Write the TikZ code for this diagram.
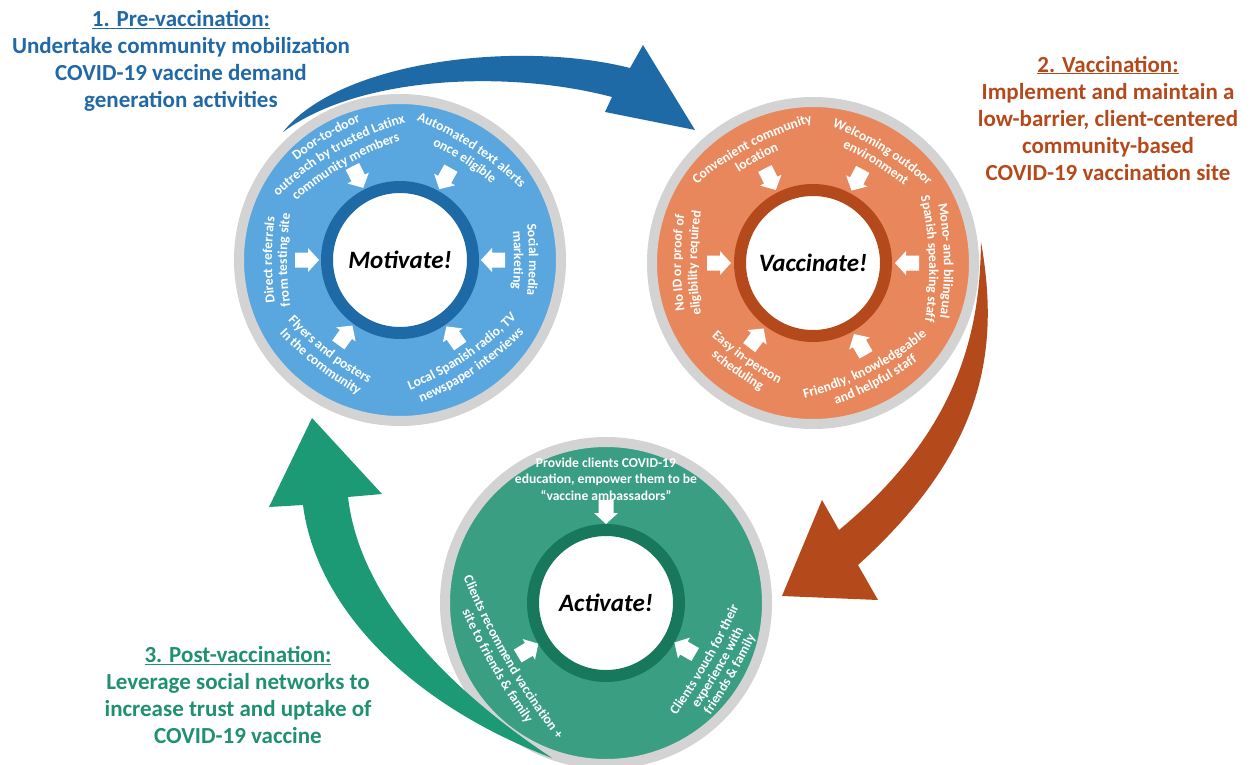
\documentclass[tikz,border=0pt]{standalone}
\usepackage{fontspec}
\setmainfont{Carlito}
\usetikzlibrary{decorations.text, calc}

\definecolor{ringgray}{HTML}{D3D3D3}
\definecolor{prefill}{HTML}{5AA7DF}
\definecolor{predark}{HTML}{1E6AA6}
\definecolor{vacfill}{HTML}{E8875B}
\definecolor{vacdark}{HTML}{B44A1B}
\definecolor{postfill}{HTML}{3A9E83}
\definecolor{postdark}{HTML}{17785B}
\definecolor{postarrow}{HTML}{1B9A75}
\definecolor{pretext}{HTML}{2168A7}
\definecolor{vactext}{HTML}{B44A1B}
\definecolor{posttext}{HTML}{1F9170}

\newlength{\ringsize}
\setlength{\ringsize}{322pt}
\newlength{\coresize}
\setlength{\coresize}{146pt}
\newlength{\bend}
\setlength{\bend}{320pt}

\newcommand{\arcfont}{\fontsize{13.6}{15}\selectfont\bfseries\color{white}}

% text on a gentle arc: centre, angle, distance, text
\newcommand{\cwline}[4]{%
  \path[decorate, decoration={text along path, text align=center, text={|\arcfont|#4}}]
    ($(#1)+(#2:#3pt)+(#2+180:\bend)+(#2+50:\bend)$) arc[start angle=#2+50, end angle=#2-50, radius=\bend];}
\newcommand{\ccwline}[4]{%
  \path[decorate, decoration={text along path, text align=center, text={|\arcfont|#4}}]
    ($(#1)+(#2:#3pt)+(#2+180:\bend)+(#2-50:\bend)$) arc[start angle=#2-50, end angle=#2+50, radius=\bend];}

\tikzstyle{ring} = [circle, draw=ringgray, line width=10pt, minimum size=\ringsize, inner sep=0pt]
\tikzstyle{core} = [circle, fill=white, line width=12pt, minimum size=\coresize, inner sep=0pt, font=\fontsize{25}{30}\selectfont\bfseries\itshape]
\tikzstyle{title} = [align=center, font=\fontsize{23}{27}\selectfont\bfseries]
\tikzset{push/.pic={\fill[white] (-12,-7.5) -- (1,-7.5) -- (1,-12) -- (12,0) -- (1,12) -- (1,7.5) -- (-12,7.5) -- cycle;}}

\begin{document}
\begin{tikzpicture}[x=1pt, y=-1pt]

    \useasboundingbox (0,0) rectangle (1255,765);

    % Circles
    \node (pre) [ring, fill=prefill] at (400,260) {};
    \node (vac) [ring, fill=vacfill] at (813,263) {};
    \node (post) [ring, fill=postfill] at (606,603) {};

    \node (motivate) [core, draw=predark] at (pre) {Motivate!};
    \node (vaccinate) [core, draw=vacdark] at (vac) {Vaccinate!};
    \node (activate) [core, draw=postdark] at (post) {Activate!};

    % Small arrows
    \foreach \a in {180,0,117,61,234,-55}
        \pic[rotate=\a+180] at ($(pre)+(\a:93pt)$) {push};
    \foreach \a in {180,0,117,62,233,-60}
        \pic[rotate=\a+180] at ($(vac)+(\a:94pt)$) {push};
    \foreach \a in {90,211,330}
        \pic[rotate=\a+180] at ($(post)+(\a:91pt)$) {push};

    % Motivate texts
    \cwline{pre}{121}{141}{Door-to-door}
    \cwline{pre}{120}{125}{outreach by trusted Latinx}
    \cwline{pre}{120}{109}{community members}
    \cwline{pre}{57}{132}{Automated text alerts}
    \cwline{pre}{57}{116}{once eligible}
    \cwline{pre}{180}{128}{Direct referrals}
    \cwline{pre}{180}{113}{from testing site}
    \cwline{pre}{0}{129}{Social media}
    \cwline{pre}{0}{114}{marketing}
    \ccwline{pre}{232}{121}{Flyers and posters}
    \ccwline{pre}{232}{136}{In the community}
    \ccwline{pre}{-56}{120}{Local Spanish radio, TV}
    \ccwline{pre}{-56}{136}{newspaper interviews}

    % Vaccinate texts
    \cwline{vac}{118}{131}{Convenient community}
    \cwline{vac}{118}{116}{location}
    \cwline{vac}{58}{131}{Welcoming outdoor}
    \cwline{vac}{58}{116}{environment}
    \cwline{vac}{1}{131}{Mono- and bilingual}
    \cwline{vac}{2}{116}{Spanish speaking staff}
    \cwline{vac}{180}{132}{No ID or proof of}
    \cwline{vac}{180}{116}{eligibility required}
    \ccwline{vac}{235}{121}{Easy in-person}
    \ccwline{vac}{235}{136}{scheduling}
    \ccwline{vac}{-63}{124}{Friendly, knowledgeable}
    \ccwline{vac}{-62}{139}{and helpful staff}

    % Activate texts
    \node (provide) [align=center, text=white, font=\fontsize{13.6}{16.5}\selectfont\bfseries] at (606,479)
        {Provide clients COVID-19\\education, empower them to be\\“vaccine ambassadors”};
    \setlength{\bend}{700pt}
    \ccwline{post}{210}{117}{Clients recommend vaccination +}
    \ccwline{post}{210}{132}{site to friends {\&} family}
    \ccwline{post}{-30}{120}{Clients vouch for their}
    \ccwline{post}{-30}{134}{experience with}
    \ccwline{post}{-30}{148}{friends {\&} family}

    % Big arrows
    \fill[predark] (283,132) .. controls (340,60) and (520,40) .. (630,68) -- (643,45) -- (695,130)
        -- (605,112) -- (612,97) .. controls (510,70) and (360,75) .. (283,132) -- cycle;
    \fill[vacdark] (981,242) .. controls (1000,350) and (985,450) .. (858,565) -- (878,600) -- (782,596)
        -- (822,500) -- (839,530) .. controls (960,430) and (980,330) .. (981,242) -- cycle;
    \fill[postarrow] (552,758) .. controls (400,700) and (315,600) .. (303,505) -- (269,507) -- (312,418)
        -- (382,494) -- (348,497) .. controls (360,600) and (450,690) .. (552,758) -- cycle;

    % Titles
    \node (pretitle) [title, text=pretext] at (181,61)
        {\underline{1. Pre-vaccination:}\\Undertake community mobilization\\COVID-19 vaccine demand\\generation activities};
    \node (vactitle) [title, text=vactext] at (1108,118)
        {\underline{2. Vaccination:}\\Implement and maintain a\\low-barrier, client-centered\\community-based\\COVID-19 vaccination site};
    \node (posttitle) [title, text=posttext] at (238,695)
        {\underline{3. Post-vaccination:}\\Leverage social networks to\\increase trust and uptake of\\COVID-19 vaccine};

\end{tikzpicture}
\end{document}
